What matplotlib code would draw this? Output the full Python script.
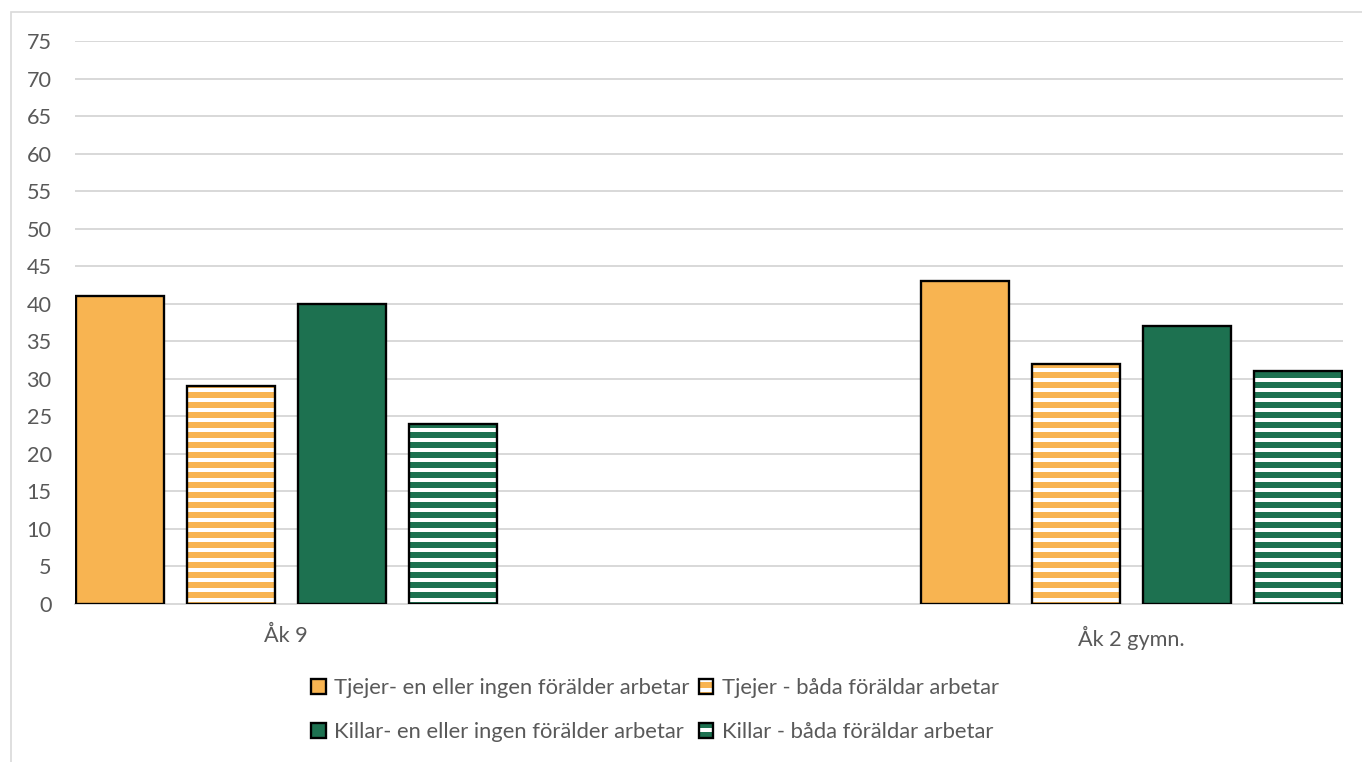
import matplotlib
matplotlib.use("Agg")
import matplotlib.pyplot as plt
from matplotlib.patches import Patch, Rectangle
from matplotlib.legend_handler import HandlerTuple

categories = ["Åk 9", "Åk 2 gymn."]
series = [
    "Tjejer- en eller ingen förälder arbetar",
    "Tjejer - båda föräldar arbetar",
    "Killar- en eller ingen förälder arbetar",
    "Killar - båda föräldar arbetar",
]
values = [
    [41, 43],
    [29, 32],
    [40, 37],
    [24, 31],
]
colors = ["#F8B451", "#F8B451", "#1D7150", "#1D7150"]
hatched = [False, True, False, True]
yticks = list(range(0, 80, 5))

text_color = "#595959"
plt.rcParams["font.family"] = ["Lato", "DejaVu Sans"]
plt.rcParams["hatch.linewidth"] = 3.6

W, H, DPI = 1362, 762, 120
fig = plt.figure(figsize=(W / DPI, H / DPI), dpi=DPI)
ax = fig.add_axes([75 / W, 1 - 604 / H, (1343 - 75) / W, (604 - 41) / H])

# light outer frame like the Excel chart area
fig.patches.append(Rectangle((11 / W, -0.1), 1.2, 1 - 12 / H + 0.1,
                             transform=fig.transFigure, fill=False,
                             edgecolor="#D9D9D9", linewidth=1.0))

x = [0, 1]
step = 0.1314
width = 0.104
handles = []
for i in range(len(series)):
    pos = [c + (i - 1.5) * step for c in x]
    if hatched[i]:
        ax.bar(pos, values[i], width, color="white", edgecolor=colors[i],
               hatch="--", linewidth=0, zorder=2)
        ax.bar(pos, values[i], width, fill=False, edgecolor="black",
               linewidth=1.4, zorder=3)
        h = (Patch(facecolor="white", edgecolor=colors[i], hatch="--", linewidth=0),
             Patch(fill=False, edgecolor="black", linewidth=1.4))
    else:
        ax.bar(pos, values[i], width, color=colors[i], edgecolor="black",
               linewidth=1.4, zorder=3)
        h = Patch(facecolor=colors[i], edgecolor="black", linewidth=1.4)
    handles.append(h)

ax.set_xlim(-0.25, 1.25)
ax.set_ylim(0, 75)
ax.set_yticks(yticks)
ax.set_xticks(x)
ax.set_xticklabels(categories)
ax.yaxis.grid(True, color="#D9D9D9", linewidth=1.2, zorder=0)
ax.set_axisbelow(True)
for s in ["top", "right", "left"]:
    ax.spines[s].set_visible(False)
ax.spines["bottom"].set_color("#D9D9D9")
ax.spines["bottom"].set_linewidth(1.2)
ax.tick_params(axis="both", length=0, labelsize=13, labelcolor=text_color)
ax.tick_params(axis="y", pad=14)
ax.tick_params(axis="x", pad=13)

# legend fills row by row in the reference
order = [0, 2, 1, 3]
leg = fig.legend([handles[k] for k in order], [series[k] for k in order],
                 loc="center", ncol=2,
                 bbox_to_anchor=(655 / W, 1 - 710 / H), frameon=False,
                 fontsize=13.2, labelcolor=text_color,
                 handlelength=0.65, handleheight=0.65, handletextpad=0.4,
                 columnspacing=0.4, labelspacing=1.1,
                 handler_map={tuple: HandlerTuple(ndivide=1)})

fig.savefig("out.png", dpi=DPI)
